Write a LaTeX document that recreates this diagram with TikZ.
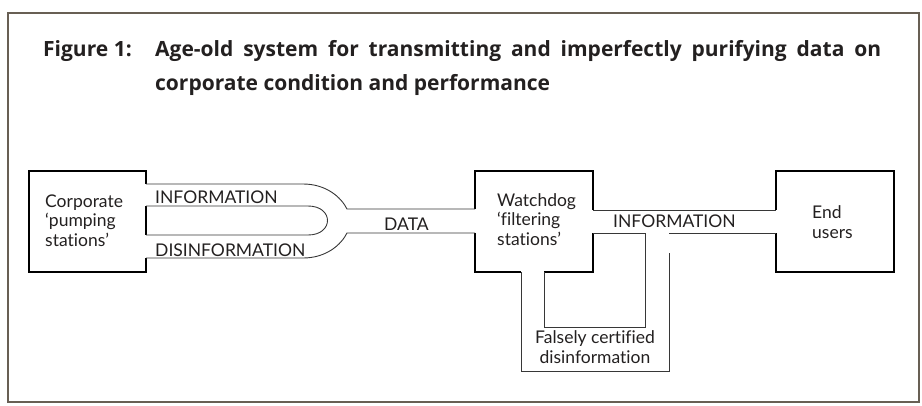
\documentclass[tikz,border=0pt]{standalone}
\usepackage{fontspec}
\setmainfont{Lato}[Ligatures=NoCommon]
\newfontfamily\headfont{Open Sans}
\usepackage{xcolor}
\usepackage{tikz}
\usetikzlibrary{positioning}
\definecolor{framebrown}{RGB}{104,95,84}
\definecolor{pipegray}{RGB}{55,55,55}
\definecolor{textgray}{RGB}{35,32,32}
\tikzset{
  frame-line/.style={line width=2.4pt, draw=framebrown},
  station-line/.style={line width=2.2pt, draw=black, line join=miter},
  pipe-line/.style={line width=0.9pt, draw=pipegray},
  station-text/.style={font=\fontsize{17.5}{19.5}\selectfont, align=left, anchor=base west,
    inner sep=0pt, text=textgray},
  pipe-label/.style={font=\fontsize{17.5}{19.5}\selectfont, anchor=base west, inner sep=0pt, text=textgray},
  title-text/.style={font=\headfont\bfseries\fontsize{21}{34}\selectfont, anchor=base west, inner sep=0pt,
    align=left, text=textgray}
}

\begin{document}
\begin{tikzpicture}[x=1pt, y=-1pt]
\useasboundingbox (0,0) rectangle (922,405);
\draw[frame-line] (8,13) rectangle (919,402);

% Title, first line set out to the full measure
\node[title-text] (fig) at (43,56) {Figure 1:};
\node[title-text] (caption) at (155,90) {\hbox to 726pt{Age-old system for transmitting and imperfectly purifying data on}\\corporate condition and performance};

% Stations (outlines left open where the pipes join)
\draw[station-line] (146,184) -- (146,171) -- (29,171) -- (29,272) -- (146,272) -- (146,258);
\draw[station-line] (146,206) -- (146,235);
\draw[station-line] (475,209) -- (475,171) -- (593,171) -- (593,210);
\draw[station-line] (593,233) -- (593,272) -- (544,272);
\draw[station-line] (521,272) -- (475,272) -- (475,233);
\draw[station-line] (776,210) -- (776,171) -- (894,171) -- (894,272) -- (776,272) -- (776,233);

% last-line baselines
\node[station-text] (corp) at (45,246) {Corporate\\`pumping\\stations'};
\node[station-text] (watch) at (497,245) {Watchdog\\`filtering\\stations'};
\node[station-text] (users) at (812,238) {End\\users};

% Information and disinformation merging into one data pipe
\draw[pipe-line] (146,184) -- (303,184) .. controls (326,184) and (341,197) .. (347,209) -- (475,209);
\draw[pipe-line] (146,206) -- (308,206) .. controls (334,206) and (334,235) .. (308,235) -- (146,235);
\draw[pipe-line] (146,258) -- (303,258) .. controls (326,258) and (341,245) .. (347,233) -- (475,233);

\node[pipe-label] (info-in) at (155,203) {INFORMATION};
\node[pipe-label] (disinfo) at (155,256) {DISINFORMATION};
\node[pipe-label] (data) at (384,230) {DATA};

% Filtered output, with the loop back through the watchdog
\draw[pipe-line] (593,210) -- (776,210);
\draw[pipe-line] (593,233) -- (645,233) -- (645,327) -- (544,327) -- (544,272);
\draw[pipe-line] (776,233) -- (669,233);
\draw[pipe-line] (669,253) -- (669,371) -- (521,371) -- (521,272);

\node[pipe-label] (info-out) at (613,227) {INFORMATION};
\node[station-text, align=center, anchor=base] (falsely) at (595,363) {Falsely certified\\disinformation};
\end{tikzpicture}
\end{document}
